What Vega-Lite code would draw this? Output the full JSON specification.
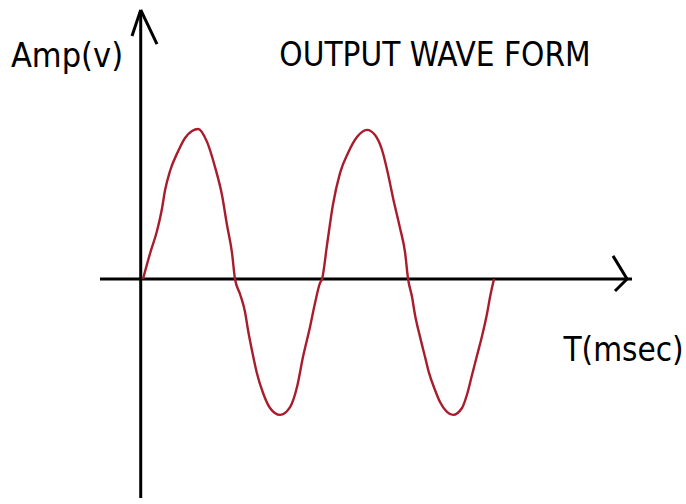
{
  "$schema": "https://vega.github.io/schema/vega-lite/v6.json",
  "width": 686,
  "height": 504,
  "padding": 0,
  "autosize": {"type": "none"},
  "background": "white",
  "config": {"view": {"stroke": null}},
  "datasets": {
    "wave": [
      {"t": 0.26, "v": 0},
      {"t": 1.06, "v": 0.85},
      {"t": 1.85, "v": 1.60},
      {"t": 2.42, "v": 2.35},
      {"t": 2.76, "v": 2.95},
      {"t": 3.33, "v": 3.60},
      {"t": 4.24, "v": 4.25},
      {"t": 5.04, "v": 4.70},
      {"t": 5.83, "v": 4.93},
      {"t": 6.52, "v": 5.0},
      {"t": 7.54, "v": 4.57},
      {"t": 8.45, "v": 3.73},
      {"t": 9.24, "v": 2.80},
      {"t": 9.81, "v": 1.80},
      {"t": 10.38, "v": 0.87},
      {"t": 10.72, "v": 0},
      {"t": 11.29, "v": -0.50},
      {"t": 11.86, "v": -1.10},
      {"t": 12.20, "v": -1.70},
      {"t": 12.77, "v": -2.55},
      {"t": 13.22, "v": -3.15},
      {"t": 13.91, "v": -3.80},
      {"t": 14.70, "v": -4.30},
      {"t": 15.84, "v": -4.53},
      {"t": 16.98, "v": -4.27},
      {"t": 17.77, "v": -3.60},
      {"t": 18.45, "v": -2.60},
      {"t": 19.25, "v": -1.60},
      {"t": 19.82, "v": -0.80},
      {"t": 20.39, "v": -0.13},
      {"t": 20.62, "v": 0},
      {"t": 21.18, "v": 1.13},
      {"t": 21.87, "v": 2.50},
      {"t": 22.66, "v": 3.53},
      {"t": 23.57, "v": 4.20},
      {"t": 24.59, "v": 4.73},
      {"t": 25.73, "v": 4.97},
      {"t": 26.64, "v": 4.80},
      {"t": 27.44, "v": 4.30},
      {"t": 28.12, "v": 3.50},
      {"t": 28.69, "v": 2.70},
      {"t": 29.48, "v": 1.70},
      {"t": 30.05, "v": 0.90},
      {"t": 30.40, "v": 0},
      {"t": 30.85, "v": -0.60},
      {"t": 31.19, "v": -1.20},
      {"t": 31.76, "v": -1.93},
      {"t": 32.33, "v": -2.60},
      {"t": 32.78, "v": -3.13},
      {"t": 33.46, "v": -3.70},
      {"t": 34.03, "v": -4.10},
      {"t": 34.82, "v": -4.43},
      {"t": 35.51, "v": -4.53},
      {"t": 36.53, "v": -4.30},
      {"t": 37.10, "v": -3.85},
      {"t": 37.67, "v": -3.20},
      {"t": 38.24, "v": -2.55},
      {"t": 38.81, "v": -1.90},
      {"t": 39.38, "v": -1.15},
      {"t": 39.72, "v": -0.60},
      {"t": 40.17, "v": 0}
    ],
    "segs": [
      {"t": 0, "v": -7.3, "t2": 0, "v2": 8.97},
      {"t": -4.63, "v": 0, "t2": 55.86, "v2": 0},
      {"t": 0, "v": 8.97, "t2": -0.99, "v2": 8.1},
      {"t": 0, "v": 8.97, "t2": 1.85, "v2": 7.83},
      {"t": 55.3, "v": 0, "t2": 53.7, "v2": 0.77},
      {"t": 55.3, "v": 0, "t2": 53.93, "v2": -0.4}
    ],
    "labels": [
      {"label": "Amp(v)", "t": -8.38, "v": 7.08, "size": 34},
      {"label": "OUTPUT WAVE FORM", "t": 33.46, "v": 7.1, "size": 33},
      {"label": "T(msec)", "t": 54.9, "v": -2.73, "size": 33}
    ]
  },
  "encoding": {
    "x": {"field": "t", "type": "quantitative", "scale": {"domain": [-16, 62], "nice": false, "zero": false}, "axis": null},
    "y": {"field": "v", "type": "quantitative", "scale": {"domain": [-7.5, 9.3], "nice": false, "zero": false}, "axis": null}
  },
  "layer": [
    {
      "data": {"name": "segs"},
      "mark": {"type": "rule", "color": "black", "strokeWidth": 3},
      "encoding": {
        "x2": {"field": "t2"},
        "y2": {"field": "v2"}
      }
    },
    {
      "data": {"name": "wave"},
      "mark": {"type": "line", "color": "#a81c2c", "strokeWidth": 2.4, "interpolate": "monotone"},
      "encoding": {}
    },
    {
      "data": {"name": "labels"},
      "mark": {"type": "text", "align": "center", "baseline": "alphabetic", "font": "DejaVu Sans Condensed, DejaVu Sans", "color": "black"},
      "encoding": {
        "text": {"field": "label"},
        "size": {"field": "size", "type": "quantitative", "scale": null}
      }
    }
  ]
}
